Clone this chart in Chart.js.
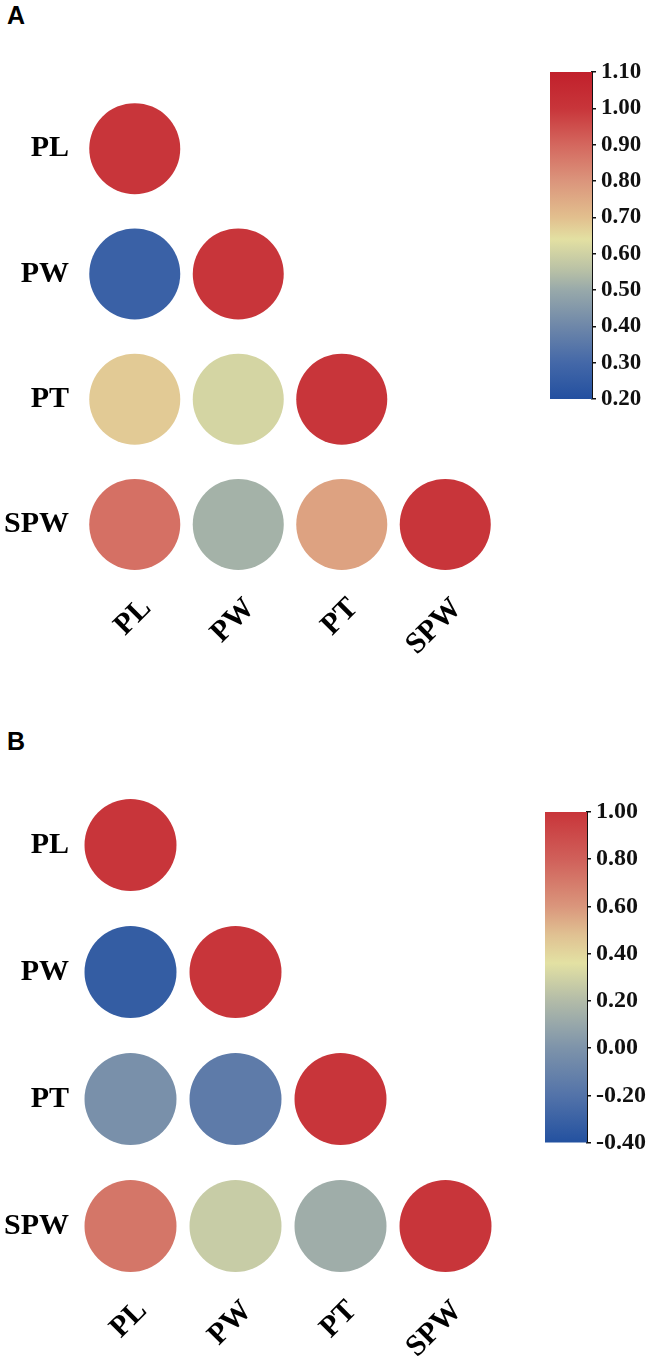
<!DOCTYPE html>
<html lang="en">
<head>
    <meta charset="UTF-8">
    <title>Correlation circles</title>
    <style>
        body {
            margin: 0;
            background: #ffffff;
        }
        .page {
            position: relative;
            width: 656px;
            height: 1369px;
            overflow: hidden;
        }
        .page canvas {
            position: absolute;
        }
        .tag {
            position: absolute;
            left: 7px;
            font: bold 25px "Liberation Sans", Arial, sans-serif;
            line-height: 25px;
            color: #000;
        }
    </style>
</head>
<body>
    <div class="page">
        <div class="tag" style="top: 3px;">A</div>
        <canvas id="matrixA" width="530" height="700" style="left:0; top:0;"></canvas>
        <canvas id="barA" width="116" height="367" style="left:540px; top:52px;"></canvas>

        <div class="tag" style="top: 729px;">B</div>
        <canvas id="matrixB" width="530" height="669" style="left:0; top:700px;"></canvas>
        <canvas id="barB" width="121" height="370" style="left:535px; top:792px;"></canvas>
    </div>

    <script src="https://cdn.jsdelivr.net/npm/chart.js"></script>
    <script>
        // traits, same order on both axes
        const traits = ['PL', 'PW', 'PT', 'SPW'];

        // lower triangle of correlation values, row by row (panel A)
        const corrA = [
            [1.00],
            [0.27, 1.00],
            [0.68, 0.61, 1.00],
            [0.88, 0.52, 0.77, 1.00]
        ];

        // panel B
        const corrB = [
            [1.00],
            [-0.33, 1.00],
            [-0.02, -0.15, 1.00],
            [0.72, 0.27, 0.13, 1.00]
        ];

        // colour bar tick labels
        const ticksA = [0.20, 0.30, 0.40, 0.50, 0.60, 0.70, 0.80, 0.90, 1.00, 1.10];
        const ticksB = [-0.40, -0.20, 0.00, 0.20, 0.40, 0.60, 0.80, 1.00];

        // colour ramps [value, colour]
        const rampA = [
            [0.20, '#2350a0'], [0.30, '#4468a8'], [0.40, '#6e87a9'], [0.50, '#98a9aa'],
            [0.55, '#b6bfa6'], [0.64, '#e3e0a2'], [0.70, '#e2bf8e'], [0.80, '#db957c'],
            [0.90, '#d4675e'], [1.00, '#c8353a'], [1.10, '#c1202b']
        ];
        const rampB = [
            [-0.40, '#2351a0'], [-0.20, '#5373a9'], [0.00, '#7d93aa'], [0.10, '#97a7aa'],
            [0.20, '#b2bba8'], [0.36, '#e3e1a3'], [0.48, '#e0c192'], [0.60, '#da967c'],
            [0.80, '#d0605a'], [1.00, '#c8353a']
        ];

        const serif = '"Liberation Serif", "Times New Roman", serif';

        function hexToRgb(h) {
            return [parseInt(h.slice(1, 3), 16), parseInt(h.slice(3, 5), 16), parseInt(h.slice(5, 7), 16)];
        }

        function colourFor(ramp, v) {
            if (v <= ramp[0][0]) return ramp[0][1];
            for (let i = 1; i < ramp.length; i++) {
                if (v <= ramp[i][0]) {
                    const a = hexToRgb(ramp[i - 1][1]);
                    const b = hexToRgb(ramp[i][1]);
                    const t = (v - ramp[i - 1][0]) / (ramp[i][0] - ramp[i - 1][0]);
                    const c = a.map((x, k) => Math.round(x + (b[k] - x) * t));
                    return 'rgb(' + c.join(',') + ')';
                }
            }
            return ramp[ramp.length - 1][1];
        }

        function makeMatrix(id, corr, ramp, geo) {
            const points = [];
            corr.forEach((row, r) => {
                row.forEach((v, c) => {
                    points.push({ x: c, y: r, r: geo.radius, v: v });
                });
            });

            new Chart(document.getElementById(id), {
                type: 'bubble',
                data: {
                    datasets: [{
                        data: points,
                        backgroundColor: (ctx) => ctx.raw ? colourFor(ramp, ctx.raw.v) : 'transparent',
                        borderWidth: 0,
                        hoverRadius: 0,
                        clip: false
                    }]
                },
                options: {
                    responsive: false,
                    animation: false,
                    events: [],
                    // big bubbles would otherwise add their own padding
                    layout: { autoPadding: false, padding: { top: geo.top, right: geo.right, left: 0, bottom: 0 } },
                    plugins: { legend: { display: false }, tooltip: { enabled: false } },
                    scales: {
                        x: {
                            type: 'linear',
                            min: -0.5,
                            max: 3.5,
                            grid: { display: false, drawTicks: false },
                            border: { display: false },
                            afterBuildTicks: (s) => { s.ticks = traits.map((t, i) => ({ value: i })); },
                            afterFit: (s) => {
                                s.height = geo.xHeight;
                                s.paddingLeft = 0;
                                s.paddingRight = 0;
                            },
                            ticks: {
                                autoSkip: false,
                                minRotation: 45,
                                maxRotation: 45,
                                padding: geo.xPad,
                                labelOffset: 12,
                                color: '#000',
                                font: { family: serif, size: 30, weight: 'bold' },
                                callback: (v) => traits[v]
                            }
                        },
                        y: {
                            type: 'linear',
                            reverse: true,
                            min: -0.5,
                            max: 3.5,
                            grid: { display: false, drawTicks: false },
                            border: { display: false },
                            afterBuildTicks: (s) => { s.ticks = traits.map((t, i) => ({ value: i })); },
                            afterFit: (s) => {
                                s.width = geo.yWidth;
                                s.paddingTop = 0;
                                s.paddingBottom = 0;
                            },
                            ticks: {
                                autoSkip: false,
                                padding: geo.yPad,
                                color: '#000',
                                font: { family: serif, size: 30, weight: 'bold' },
                                callback: (v) => traits[v]
                            }
                        }
                    }
                }
            });
        }

        function makeColourBar(id, tickVals, ramp, geo) {
            const lo = tickVals[0];
            const hi = tickVals[tickVals.length - 1];
            new Chart(document.getElementById(id), {
                type: 'bar',
                data: {
                    labels: [''],
                    datasets: [{
                        data: [[lo, hi]],
                        barPercentage: 1,
                        categoryPercentage: 1,
                        borderWidth: 0,
                        backgroundColor: (ctx) => {
                            const chart = ctx.chart;
                            const area = chart.chartArea;
                            if (!area || !chart.scales.y) return 'transparent';
                            const g = chart.ctx.createLinearGradient(0, area.bottom, 0, area.top);
                            const span = area.bottom - area.top;
                            ramp.forEach(([v, col]) => {
                                const p = chart.scales.y.getPixelForValue(v);
                                const off = Math.min(1, Math.max(0, (area.bottom - p) / span));
                                g.addColorStop(off, col);
                            });
                            return g;
                        }
                    }]
                },
                options: {
                    responsive: false,
                    animation: false,
                    events: [],
                    layout: { padding: { top: geo.top, bottom: geo.bottom, left: 10, right: 0 } },
                    plugins: { legend: { display: false }, tooltip: { enabled: false } },
                    scales: {
                        x: { display: false },
                        y: {
                            position: 'right',
                            min: lo,
                            max: hi,
                            afterBuildTicks: (s) => { s.ticks = tickVals.map((v) => ({ value: v })); },
                            afterFit: (s) => { s.width = geo.axisWidth; },
                            grid: {
                                display: true,
                                drawOnChartArea: false,
                                drawTicks: true,
                                tickLength: 4,
                                color: '#111',
                                lineWidth: 1.5
                            },
                            border: { display: true, color: '#111', width: 2 },
                            ticks: {
                                autoSkip: false,
                                padding: 5,
                                color: '#111',
                                font: { family: serif, size: geo.fontSize, weight: 'bold' },
                                callback: (v) => Number(v).toFixed(2)
                            }
                        }
                    }
                }
            });
        }

        makeMatrix('matrixA', corrA, rampA, { radius: 45.5, top: 86, right: 33, xHeight: 113, xPad: 4, yWidth: 83, yPad: 14 });
        makeColourBar('barA', ticksA, rampA, { top: 20, bottom: 20, axisWidth: 64, fontSize: 23 });

        makeMatrix('matrixB', corrB, rampB, { radius: 46, top: 81.5, right: 32, xHeight: 79.5, xPad: 4, yWidth: 78, yPad: 9 });
        makeColourBar('barB', ticksB, rampB, { top: 20, bottom: 19, axisWidth: 69, fontSize: 24 });
    </script>
</body>
</html>
